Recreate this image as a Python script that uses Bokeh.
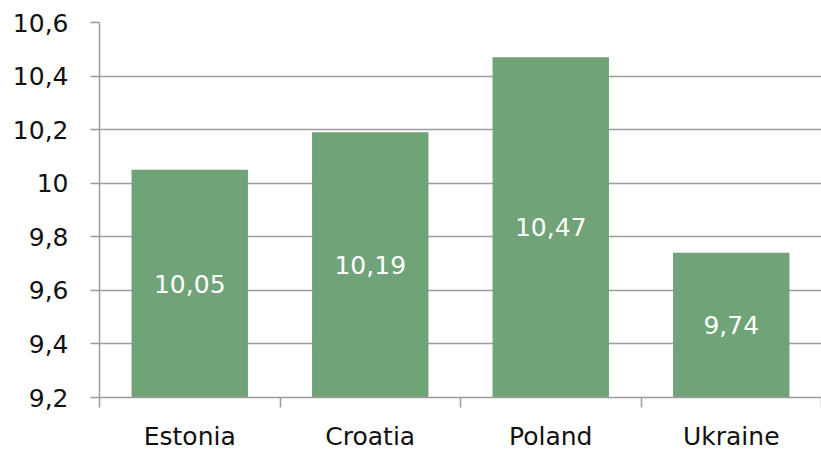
import numpy as np
from bokeh.plotting import figure
from bokeh.models import FixedTicker, ColumnDataSource
from bokeh.core.properties import value
from bokeh.embed import file_html
from bokeh.resources import INLINE

categories = ["Estonia", "Croatia", "Poland", "Ukraine"]
values = [10.05, 10.19, 10.47, 9.74]
y_ticks = [9.2, 9.4, 9.6, 9.8, 10.0, 10.2, 10.4, 10.6]
y_tick_labels = ["9,2", "9,4", "9,6", "9,8", "10", "10,2", "10,4", "10,6"]

FONT = "DejaVu Sans"
BAR = "#70A377"
GRID = "#9C9C9C"
FS = "25px"

base = y_ticks[0]
xc = np.arange(len(categories)) + 0.5
src = ColumnDataSource(dict(
    x=xc, top=values, bottom=[base] * len(values),
    mid=[(base + v) / 2 for v in values],
    lab=[f"{v:.2f}".replace(".", ",") for v in values],
))

p = figure(width=821, height=453, output_backend="svg", toolbar_location=None,
           x_range=(0, len(categories)), y_range=(y_ticks[0], y_ticks[-1]),
           min_border_left=99, min_border_right=0, min_border_top=22, min_border_bottom=53)
p.outline_line_color = None
p.background_fill_color = "white"
p.border_fill_color = "white"

p.vbar(x="x", top="top", bottom="bottom", width=0.645, source=src,
       fill_color=BAR, line_color=None)
p.text(x="x", y="mid", text="lab", source=src, text_align="center", text_baseline="middle",
       text_color="white", text_font=value(FONT), text_font_size=FS)

p.xgrid.grid_line_color = None
p.ygrid.grid_line_color = GRID
p.ygrid.grid_line_width = 1.5
p.ygrid.ticker = FixedTicker(ticks=y_ticks)

ya = p.yaxis[0]
ya.ticker = FixedTicker(ticks=y_ticks)
ya.major_label_overrides = {t: l for t, l in zip(y_ticks, y_tick_labels)}
ya.axis_line_color = GRID
ya.axis_line_width = 1.5
ya.major_tick_line_color = GRID
ya.major_tick_line_width = 1.5
ya.major_tick_in = 0
ya.major_tick_out = 9
ya.minor_tick_line_color = None
ya.major_label_standoff = 22
ya.major_label_text_font = FONT
ya.major_label_text_font_size = FS
ya.major_label_text_color = "#111111"

xa = p.xaxis[0]
xa.ticker = FixedTicker(ticks=list(xc), minor_ticks=list(range(len(categories) + 1)))
xa.major_label_overrides = {float(x): c for x, c in zip(xc, categories)}
xa.axis_line_color = GRID
xa.axis_line_width = 1.5
xa.major_tick_line_color = None
xa.minor_tick_line_color = GRID
xa.minor_tick_line_width = 1.5
xa.minor_tick_in = 0
xa.minor_tick_out = 10
xa.major_label_standoff = 14
xa.major_label_text_font = FONT
xa.major_label_text_font_size = FS
xa.major_label_text_color = "#111111"

open("out.html", "w").write(file_html(p, INLINE))
